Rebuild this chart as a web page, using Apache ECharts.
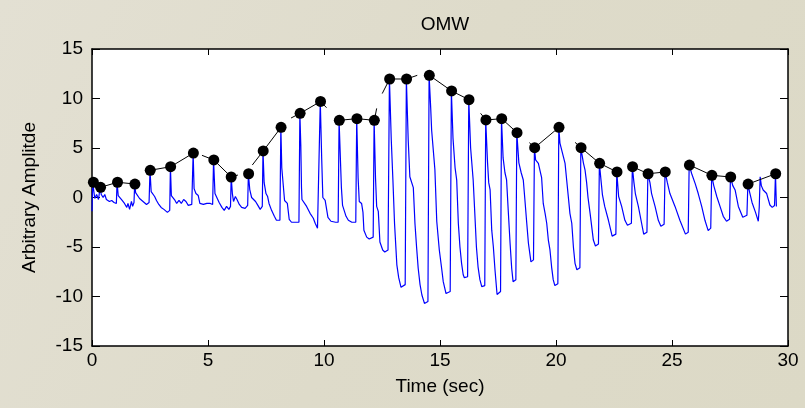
<!DOCTYPE html>
<html>
<head>
<meta charset="utf-8">
<script src="https://cdn.jsdelivr.net/npm/echarts@6/dist/echarts.min.js"></script>
<style>
html,body{margin:0;padding:0;background:#dfdccb;}
#chart{width:805px;height:408px;}
</style>
</head>
<body>
<div id="chart"></div>
<script>
// ---- data ----
const xTicks = [0, 5, 10, 15, 20, 25, 30];
const yTicks = [-15, -10, -5, 0, 5, 10, 15];

// detected peaks (black dots): [time sec, amplitude]
const peaks = [
  [0.06,1.54],[0.37,1.03],[1.10,1.54],[1.85,1.36],[2.51,2.75],[3.39,3.11],[4.37,4.49],
  [5.25,3.79],[6.00,2.07],[6.75,2.40],[7.38,4.70],[8.15,7.09],[8.97,8.50],[9.85,9.70],
  [10.66,7.80],[11.42,7.96],[12.17,7.80],[12.83,11.97],[13.56,11.97],[14.54,12.34],
  [15.50,10.76],[16.25,9.88],[16.98,7.83],[17.66,7.96],[18.32,6.55],[19.08,5.03],
  [20.13,7.09],[21.08,5.03],[21.88,3.45],[22.63,2.58],[23.30,3.11],[23.97,2.40],
  [24.71,2.58],[25.75,3.28],[26.72,2.24],[27.53,2.07],[28.28,1.36],[29.47,2.40]
];

// envelope line pieces (black line, drawn with gaps)
const envelopeSegments = [
  [[0.06,1.54],[0.37,1.03],[1.10,1.54],[1.85,1.36]],
  [[2.51,2.75],[3.39,3.11],[4.37,4.49]],
  [[4.74,4.26],[5.25,3.79],[6.00,2.07],[6.29,2.27]],
  [[6.91,3.28],[7.38,4.70],[8.15,7.09]],
  [[8.58,8.03],[8.97,8.50],[9.85,9.70],[10.11,9.07]],
  [[10.66,7.80],[11.42,7.96],[12.17,7.80],[12.27,9.00]],
  [[12.51,10.50],[12.83,11.97],[13.56,11.97],[14.02,12.34]],
  [[14.54,12.34],[15.50,10.76],[16.25,9.88]],
  [[16.75,8.50],[16.98,7.83],[17.66,7.96],[18.32,6.55]],
  [[18.85,5.54],[19.08,5.03],[20.13,7.09]],
  [[20.82,5.57],[21.08,5.03],[21.88,3.45],[22.63,2.58]],
  [[23.12,2.95],[23.30,3.11],[23.97,2.40],[24.71,2.58]],
  [[25.75,3.28],[26.72,2.24],[27.53,2.07]],
  [[28.28,1.36],[29.47,2.40]]
];

// oscillometric signal (blue): [time sec, amplitude]
const signal = [
  [0.00,-1.4],[0.03,1.54],[0.08,0.6],[0.12,-0.1],[0.20,0.3],[0.28,-0.2],[0.35,1.03],[0.40,0.3],[0.48,0.0],[0.55,0.3],[0.62,-0.2],[0.75,-0.4],[0.85,-0.3],[0.95,-0.5],[1.05,-0.6],[1.08,1.54],[1.13,0.2],[1.20,0.0],[1.30,-0.3],[1.40,-0.6],[1.50,-1.0],[1.55,-0.6],[1.62,-1.2],[1.70,-0.4],[1.75,-0.9],[1.81,-0.5],[1.84,1.36],[1.88,0.5],[1.95,0.5],[2.05,-0.1],[2.15,-0.3],[2.25,-0.5],[2.35,-0.7],[2.46,-0.5],[2.50,2.75],[2.55,0.6],[2.62,0.5],[2.70,0.1],[2.78,-0.3],[2.88,-0.7],[2.98,-1.0],[3.10,-1.2],[3.25,-1.5],[3.35,-1.3],[3.38,3.11],[3.42,0.2],[3.50,0.0],[3.58,-0.3],[3.65,-0.6],[3.75,-0.3],[3.85,-0.6],[3.95,-0.2],[4.05,-0.4],[4.15,-0.8],[4.30,-0.7],[4.36,4.49],[4.40,0.9],[4.48,0.4],[4.58,0.2],[4.65,-0.6],[4.80,-0.7],[4.95,-0.6],[5.10,-0.6],[5.20,-0.7],[5.24,3.79],[5.30,0.4],[5.38,0.2],[5.48,-0.5],[5.60,-1.0],[5.70,-1.3],[5.80,-0.9],[5.90,-1.2],[5.97,-0.9],[6.00,2.07],[6.05,0.4],[6.10,-0.4],[6.18,0.1],[6.25,-0.2],[6.35,-0.7],[6.45,-1.0],[6.60,-1.1],[6.71,-0.8],[6.74,2.40],[6.80,0.8],[6.88,0.0],[6.95,0.2],[7.05,-0.4],[7.15,-0.8],[7.25,-1.2],[7.34,-0.9],[7.37,4.70],
  [7.42,1.5],[7.50,0.4],[7.57,0.1],[7.63,-0.6],[7.74,-1.3],[7.86,-1.9],[7.95,-2.3],[8.10,-2.3],[8.14,7.09],
  [8.18,3.0],[8.30,-0.3],[8.42,-0.6],[8.50,-2.2],[8.60,-2.5],[8.92,-2.5],[8.96,8.5],
  [9.00,5.3],[9.03,1.0],[9.05,-0.2],[9.10,-0.4],[9.25,-0.9],[9.40,-1.6],[9.54,-2.1],[9.62,-2.6],[9.72,-3.1],[9.79,-3.0],[9.84,9.7],
  [9.90,4.0],[9.95,0.0],[10.05,-0.3],[10.17,-2.0],[10.30,-2.4],[10.50,-2.5],[10.61,-2.5],[10.65,7.8],
  [10.72,3.0],[10.75,1.0],[10.80,-0.8],[10.85,-0.9],[10.95,-1.9],[11.05,-2.3],[11.20,-2.5],[11.37,-2.5],[11.41,7.96],
  [11.47,2.0],[11.52,-0.4],[11.62,-0.6],[11.68,-1.5],[11.72,-3.3],[11.84,-4.0],[11.95,-4.2],[12.12,-4.0],[12.16,7.8],
  [12.22,2.0],[12.27,-0.9],[12.34,-1.4],[12.41,-4.5],[12.53,-5.3],[12.62,-5.5],[12.76,-5.3],[12.82,11.97],
  [12.90,5.8],[12.97,1.8],[13.04,-2.6],[13.14,-6.8],[13.22,-8.1],[13.32,-9.07],[13.50,-8.8],[13.55,11.97],
  [13.63,5.8],[13.70,2.1],[13.85,1.0],[13.92,-2.6],[13.99,-5.0],[14.06,-7.15],[14.14,-8.8],[14.22,-9.85],[14.33,-10.7],[14.48,-10.5],[14.53,12.34],
  [14.60,9.0],[14.64,6.8],[14.78,2.8],[14.86,-2.4],[14.97,-5.3],[15.07,-7.15],[15.14,-8.5],[15.26,-9.7],[15.44,-9.5],[15.49,10.76],
  [15.56,6.0],[15.65,3.0],[15.72,1.77],[15.79,-2.6],[15.86,-5.0],[15.93,-6.65],[16.00,-7.8],[16.05,-8.1],[16.19,-8.0],[16.24,9.88],
  [16.32,5.0],[16.43,1.77],[16.50,-1.6],[16.57,-5.0],[16.64,-7.0],[16.72,-8.3],[16.80,-9.0],[16.93,-8.9],[16.97,7.83],
  [17.05,3.5],[17.10,1.5],[17.16,0.76],[17.23,-3.3],[17.30,-5.0],[17.37,-7.3],[17.46,-9.8],[17.61,-9.5],[17.65,7.96],
  [17.72,4.0],[17.80,2.5],[17.87,1.77],[17.94,-1.26],[18.02,-4.6],[18.09,-7.15],[18.15,-8.5],[18.27,-8.3],[18.31,6.55],
  [18.40,3.5],[18.50,2.5],[18.59,1.77],[18.66,-0.25],[18.74,-2.6],[18.81,-4.6],[18.92,-6.5],[19.03,-6.3],[19.07,5.03],
  [19.12,3.8],[19.24,3.45],[19.38,2.0],[19.45,-0.6],[19.53,-1.6],[19.60,-2.6],[19.67,-4.3],[19.74,-5.3],[19.81,-7.0],[19.88,-8.3],[19.95,-8.9],[20.08,-8.7],[20.12,7.09],
  [20.17,5.5],[20.32,4.1],[20.39,3.45],[20.46,1.77],[20.53,0.1],[20.60,-1.6],[20.68,-2.6],[20.75,-5.0],[20.82,-6.65],[20.90,-7.3],[21.03,-7.1],[21.07,5.03],
  [21.18,3.5],[21.25,2.8],[21.32,1.5],[21.38,0.0],[21.47,-1.6],[21.61,-4.3],[21.70,-4.9],[21.83,-4.7],[21.87,3.45],
  [21.95,1.5],[22.00,0.3],[22.10,-0.9],[22.26,-2.3],[22.42,-3.9],[22.58,-3.7],[22.62,2.58],
  [22.70,0.1],[22.83,-0.9],[22.97,-2.3],[23.08,-2.8],[23.25,-2.6],[23.29,3.11],
  [23.36,1.5],[23.42,0.4],[23.55,-0.9],[23.69,-2.6],[23.78,-3.7],[23.92,-3.5],[23.96,2.4],
  [24.05,1.5],[24.12,0.4],[24.27,-0.9],[24.41,-2.3],[24.52,-2.9],[24.66,-2.7],[24.70,2.58],
  [24.80,1.5],[24.91,0.4],[25.13,-0.9],[25.34,-2.3],[25.58,-3.7],[25.70,-3.5],[25.74,3.28],
  [25.85,2.4],[26.00,1.4],[26.13,0.4],[26.28,-0.9],[26.42,-2.3],[26.56,-3.35],[26.67,-3.1],[26.71,2.24],
  [26.80,1.2],[26.93,0.1],[27.07,-0.9],[27.21,-1.9],[27.35,-2.4],[27.48,-2.2],[27.52,2.07],
  [27.62,1.2],[27.72,0.76],[27.86,-0.9],[28.05,-2.0],[28.23,-1.8],[28.27,1.36],
  [28.35,0.5],[28.45,-0.5],[28.60,-1.5],[28.72,-2.4],[28.76,-1.0],[28.80,2.1],[28.85,1.2],[28.93,0.76],[29.08,0.4],[29.22,-0.76],[29.32,-1.0],[29.42,-0.8],[29.46,2.4],[29.50,-0.9]
];

const titleText = 'OMW';
const xName = 'Time (sec)';
const yName = 'Arbitrary Amplitde';

// ---- chart ----
const FONT = '"Liberation Sans", Arial, Helvetica, sans-serif';
const chart = echarts.init(document.getElementById('chart'), null, {renderer: 'canvas'});

function xAxisCfg(pos, showLabels) {
  return {
    type: 'value', position: pos, min: xTicks[0], max: xTicks[xTicks.length - 1], interval: 5,
    axisLine: {show: true, onZero: false, lineStyle: {color: '#000', width: 1.5}},
    axisTick: {show: true, inside: true, length: 6, lineStyle: {color: '#000', width: 1}},
    axisLabel: {show: showLabels, color: '#000', fontSize: 19, fontFamily: FONT, margin: 5},
    splitLine: {show: false},
    name: showLabels ? xName : '', nameLocation: 'middle', nameGap: 31,
    nameTextStyle: {color: '#000', fontSize: 19, fontFamily: FONT}
  };
}
function yAxisCfg(pos, showLabels) {
  return {
    type: 'value', position: pos, min: yTicks[0], max: yTicks[yTicks.length - 1], interval: 5,
    axisLine: {show: true, onZero: false, lineStyle: {color: '#000', width: 1.5}},
    axisTick: {show: true, inside: true, length: 8, lineStyle: {color: '#000', width: 1}},
    axisLabel: {show: showLabels, color: '#000', fontSize: 19, fontFamily: FONT, margin: 9},
    splitLine: {show: false},
    name: showLabels ? yName : '', nameLocation: 'middle', nameGap: 53, nameRotate: 90,
    nameTextStyle: {color: '#000', fontSize: 19, fontFamily: FONT}
  };
}

const series = [
  {
    type: 'line', data: signal, xAxisIndex: 0, yAxisIndex: 0,
    showSymbol: false, symbol: 'none', z: 2,
    lineStyle: {color: '#0000ff', width: 1.2}
  }
];
envelopeSegments.forEach(seg => {
  series.push({
    type: 'line', data: seg, xAxisIndex: 0, yAxisIndex: 0,
    showSymbol: false, symbol: 'none', z: 3,
    lineStyle: {color: '#000', width: 1}
  });
});
series.push({
  type: 'scatter', data: peaks, xAxisIndex: 0, yAxisIndex: 0,
  symbol: 'circle', symbolSize: 11, z: 4,
  itemStyle: {color: '#000', opacity: 1}
});

chart.setOption({
  animation: false,
  backgroundColor: {
    type: 'linear', x: 0, y: 0, x2: 1, y2: 1,
    colorStops: [{offset: 0, color: '#e3e0d3'}, {offset: 0.5, color: '#dedbca'}, {offset: 1, color: '#dcd9c6'}]
  },
  title: {
    text: titleText, left: 440, top: 10, textAlign: 'center',
    textStyle: {color: '#000', fontSize: 19, fontWeight: 'normal', fontFamily: FONT}
  },
  grid: {left: 92, top: 49, width: 696, height: 297, show: true, backgroundColor: '#ffffff', borderWidth: 0},
  xAxis: [xAxisCfg('bottom', true), xAxisCfg('top', false)],
  yAxis: [yAxisCfg('left', true), yAxisCfg('right', false)],
  series: series
});
</script>
</body>
</html>
